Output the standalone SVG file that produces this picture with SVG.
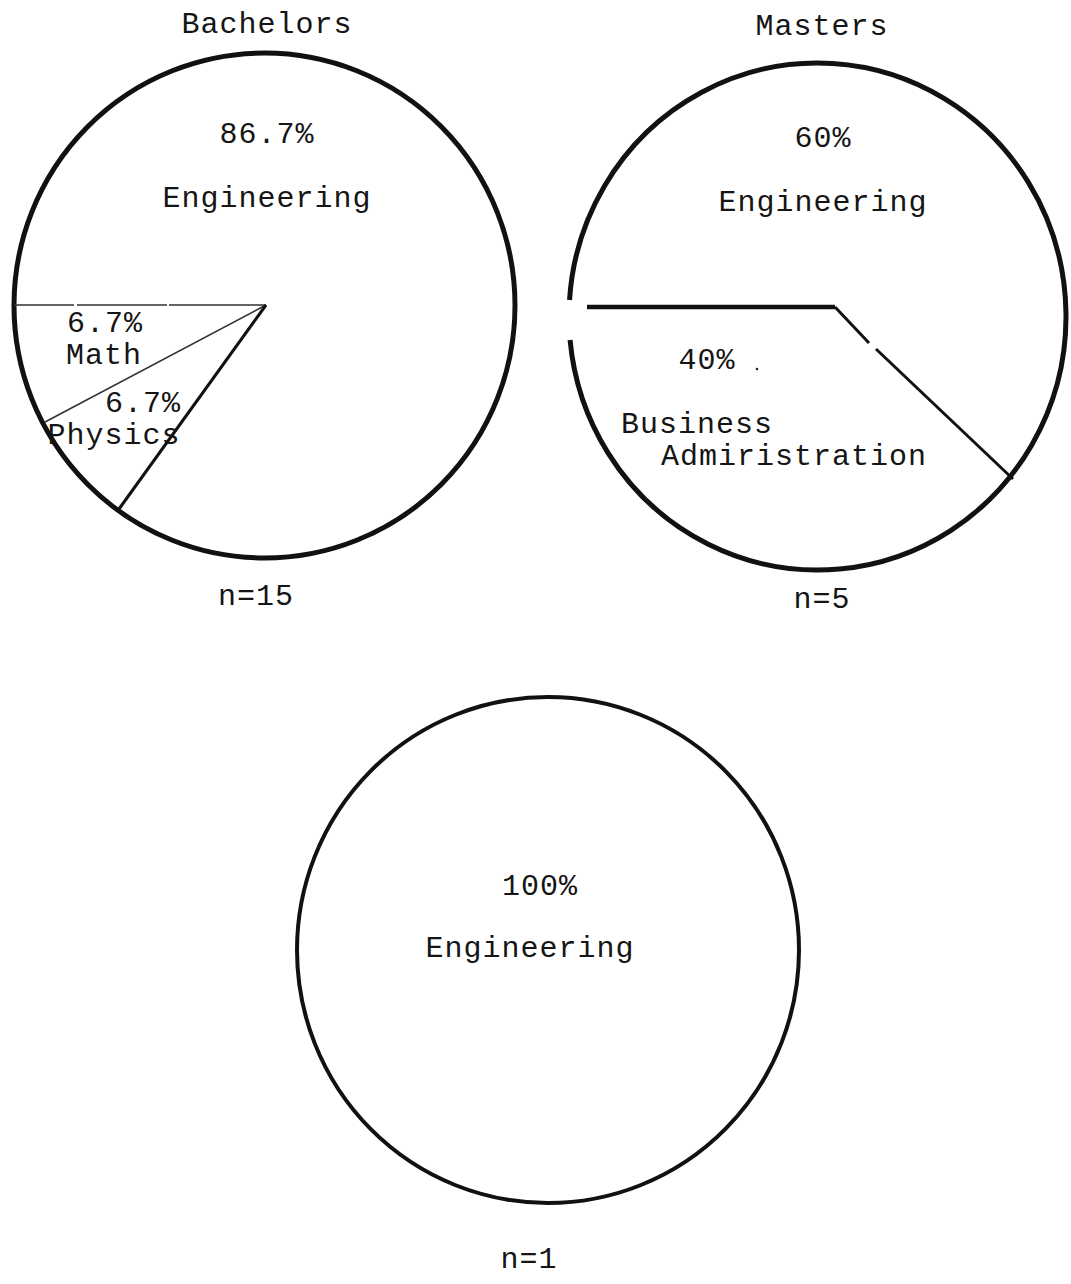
<svg xmlns="http://www.w3.org/2000/svg" width="1071" height="1284" viewBox="0 0 1071 1284">
<style>
text{font-family:"Liberation Mono","DejaVu Sans Mono",monospace;font-size:30px;letter-spacing:1px;fill:#151515;text-anchor:middle}
.rim{fill:none;stroke:#111;stroke-width:5}
.rim2{fill:none;stroke:#111;stroke-width:4}
.thin{stroke:#333;stroke-width:1.6;fill:none}
.mid{stroke:#111;stroke-width:3;fill:none}
.thick{stroke:#111;stroke-width:4.5;fill:none}
</style>
<rect width="1071" height="1284" fill="#fff"/>
<g id="pie-bachelors">
  <text x="267" y="33">Bachelors</text>
  <ellipse class="rim" cx="264.5" cy="305.5" rx="250.5" ry="252.5"/>
  <line class="thin" x1="14" y1="305" x2="266" y2="305" stroke-dasharray="60 3 90 2 200 0"/>
  <line class="thin" x1="266" y1="305" x2="45" y2="422"/>
  <line class="mid" x1="266" y1="305" x2="119" y2="509"/>
  <text x="267" y="143">86.7%</text>
  <text x="267" y="207">Engineering</text>
  <text x="105" y="332">6.7%</text>
  <text x="104" y="364">Math</text>
  <text x="143" y="412">6.7%</text>
  <text x="114" y="444">Physics</text>
  <text x="256" y="605">n=15</text>
</g>
<g id="pie-masters">
  <text x="822" y="35">Masters</text>
  <path class="rim" d="M 570.07,340 A 248.5 253.5 0 1 0 569.53,300"/>
  <line class="thick" x1="587" y1="307" x2="835" y2="307"/>
  <line class="mid" x1="835" y1="307" x2="869" y2="343"/>
  <line class="mid" x1="876" y1="349" x2="1013" y2="479"/>
  <text x="707" y="369">40%</text>
  <circle cx="757" cy="369" r="1.3" fill="#222"/>
  <text x="823" y="147">60%</text>
  <text x="823" y="211">Engineering</text>
  <text x="697" y="433">Business</text>
  <text x="794" y="465">Admiristration</text>
  <text x="822" y="608">n=5</text>
</g>
<g id="pie-doctorate">
  <ellipse class="rim2" cx="548" cy="950" rx="251" ry="253"/>
  <text x="540" y="895">100%</text>
  <text x="530" y="957">Engineering</text>
  <text x="529" y="1268">n=1</text>
</g>
</svg>
